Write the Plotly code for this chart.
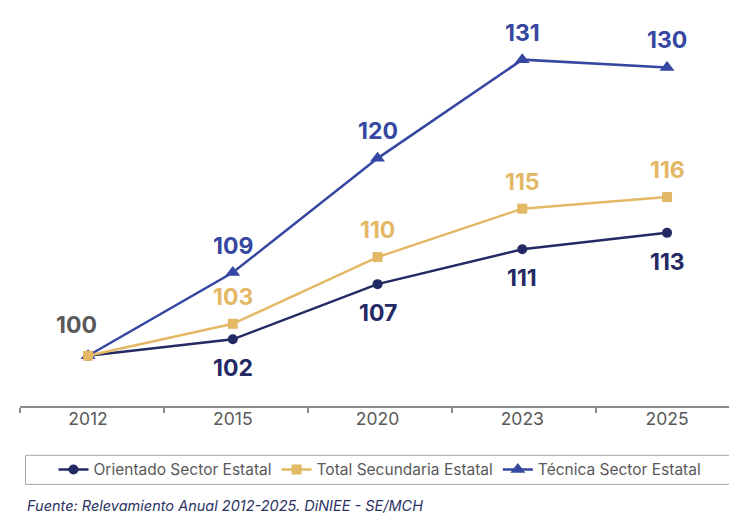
import plotly.graph_objects as go

years = ["2012", "2015", "2020", "2023", "2025"]
orientado = [100.0, 101.7, 107.4, 111.0, 112.7]
total_sec = [100.0, 103.3, 110.2, 115.2, 116.4]
tecnica = [100.0, 108.6, 120.4, 130.6, 129.8]
orientado_lbl = ["", "102", "107", "111", "113"]
total_lbl = ["100", "103", "110", "115", "116"]
tecnica_lbl = ["", "109", "120", "131", "130"]

C_OR = "#232a63"
C_TO = "#e3b865"
C_TE = "#3547a0"
FONT = "Inter"

xs = list(range(len(years)))

W, H = 729, 515
PLOT_L, PLOT_R, PLOT_T, PLOT_B = 20, 729, 0, 405.7
PH = PLOT_B - PLOT_T
PW = PLOT_R - PLOT_L
def py(Y):
    return (PLOT_B - Y) / PH
def px(X):
    return (X - PLOT_L) / PW

fig = go.Figure()
fig.add_trace(go.Scatter(x=xs, y=orientado, mode="lines+markers", name="Orientado Sector Estatal",
                         line=dict(color=C_OR, width=2.5), marker=dict(symbol="circle", size=10, color=C_OR),
                         legendrank=1))
fig.add_trace(go.Scatter(x=xs, y=tecnica, mode="lines+markers", name="Técnica Sector Estatal",
                         line=dict(color=C_TE, width=2.5), marker=dict(symbol="triangle-up", size=13, color=C_TE),
                         legendrank=3))
fig.add_trace(go.Scatter(x=xs, y=total_sec, mode="lines+markers", name="Total Secundaria Estatal",
                         line=dict(color=C_TO, width=2.5), marker=dict(symbol="square", size=10, color=C_TO),
                         legendrank=2))

annotations = []
def add_labels(vals, lbls, color, yshift):
    for i, (v, t) in enumerate(zip(vals, lbls)):
        if not t:
            continue
        c = color
        xsft = 0
        ys = yshift
        if i == 0:
            c = "#595959"
            xsft = -12
            ys = 31
        annotations.append(dict(x=xs[i], y=v, xref="x", yref="y", text=t, showarrow=False,
                                xshift=xsft, yshift=ys, yanchor="middle", xanchor="center",
                                font=dict(family=FONT, size=23, color=c, weight=700)))

add_labels(tecnica, tecnica_lbl, C_TE, 27)
add_labels(total_sec, total_lbl, C_TO, 27)
add_labels(orientado, orientado_lbl, C_OR, -29)

annotations.append(dict(x=px(25), y=py(505.5), xref="paper", yref="paper",
                        text="<i>Fuente: Relevamiento Anual 2012-2025. DiNIEE - SE/MCH</i>",
                        showarrow=False, xanchor="left", yanchor="middle",
                        font=dict(family=FONT, size=14.5, color="#2b3263")))

xrange = [-0.47, 4.428]
fig.update_layout(
    width=W, height=H,
    margin=dict(l=PLOT_L, r=W - PLOT_R, t=PLOT_T, b=H - PLOT_B),
    plot_bgcolor="white", paper_bgcolor="white",
    showlegend=True,
    legend=dict(orientation="h", x=px(380), xanchor="center", y=py(469.5), yanchor="middle",
                font=dict(family=FONT, size=15.5, color="#595959"), bgcolor="rgba(0,0,0,0)",
                itemwidth=30, traceorder="normal"),
    xaxis=dict(range=xrange, tickvals=[-0.47, 0.525, 1.52, 2.515, 3.51], showticklabels=False,
               ticks="outside", ticklen=5, tickcolor="#8c8c8c", tickwidth=1.5,
               showline=True, linecolor="#8c8c8c", linewidth=1.5, showgrid=False, zeroline=False),
    xaxis2=dict(range=xrange, overlaying="x", side="bottom", anchor="y", tickvals=xs, ticktext=years,
                ticks="", showline=False, showgrid=False, zeroline=False,
                tickfont=dict(family=FONT, size=17.5, color="#595959")),
    yaxis=dict(range=[100 - (PLOT_B - 355.5) / 9.67, 100 + (355.5 - PLOT_T) / 9.67],
               visible=False, showgrid=False, zeroline=False),
    annotations=annotations,
    shapes=[dict(type="rect", xref="paper", yref="paper",
                 x0=px(25.5), x1=1.05, y0=py(455), y1=py(484),
                 line=dict(color="#a6a6a6", width=1), fillcolor="rgba(0,0,0,0)")],
)
# invisible helper trace to activate the label axis
fig.add_trace(go.Scatter(x=xs, y=[None] * len(xs), xaxis="x2", showlegend=False, hoverinfo="skip"))

fig.write_html("out.html", config={"displayModeBar": False},
               post_script="document.body.style.margin='0';document.body.style.overflow='hidden';")
